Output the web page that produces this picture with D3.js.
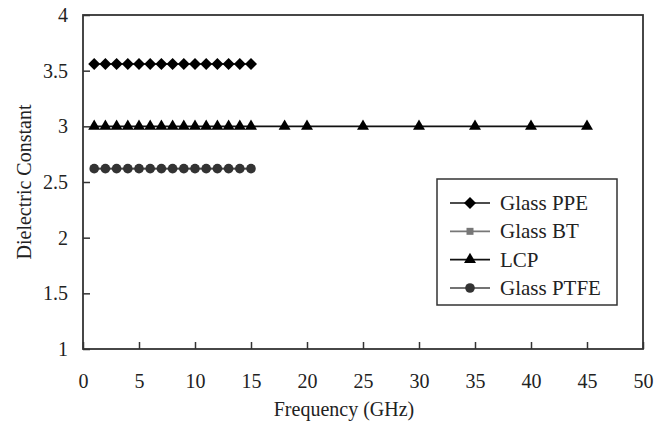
<!DOCTYPE html>
<html>
<head>
<meta charset="utf-8">
<script src="https://cdn.jsdelivr.net/npm/d3@7"></script>
<style>
  body { margin: 0; background: #fff; }
  text { font-family: "Liberation Serif", "Times New Roman", serif; fill: #222; }
</style>
</head>
<body>
<div id="chart"></div>
<script>
// frequencies (GHz)
const freqShort = [1, 2, 3, 4, 5, 6, 7, 8, 9, 10, 11, 12, 13, 14, 15];
const freqLCP = [1, 2, 3, 4, 5, 6, 7, 8, 9, 10, 11, 12, 13, 14, 15, 18, 20, 25, 30, 35, 40, 45];

const ppeValues = [3.56, 3.56, 3.56, 3.56, 3.56, 3.56, 3.56, 3.56, 3.56, 3.56, 3.56, 3.56, 3.56, 3.56, 3.56];
const btValues = [2.62, 2.62, 2.62, 2.62, 2.62, 2.62, 2.62, 2.62, 2.62, 2.62, 2.62, 2.62, 2.62, 2.62, 2.62];
const lcpValues = [3.0, 3.0, 3.0, 3.0, 3.0, 3.0, 3.0, 3.0, 3.0, 3.0, 3.0, 3.0, 3.0, 3.0, 3.0, 3.0, 3.0, 3.0, 3.0, 3.0, 3.0, 3.0];
const ptfeValues = [2.62, 2.62, 2.62, 2.62, 2.62, 2.62, 2.62, 2.62, 2.62, 2.62, 2.62, 2.62, 2.62, 2.62, 2.62];

const xTicks = [0, 5, 10, 15, 20, 25, 30, 35, 40, 45, 50];
const yTicks = [1, 1.5, 2, 2.5, 3, 3.5, 4];

const seriesNames = ["Glass PPE", "Glass BT", "LCP", "Glass PTFE"];

const W = 654, H = 428;
const plotL = 83, plotR = 643, plotT = 15, plotB = 349;
const fs = 20;

const series = [
    { name: seriesNames[0], x: freqShort, y: ppeValues, color: "#000", line: "#111", shape: d3.symbolDiamond2, size: 92 },
    { name: seriesNames[1], x: freqShort, y: btValues, color: "#777", line: "#777", shape: d3.symbolSquare, size: 49 },
    { name: seriesNames[2], x: freqLCP, y: lcpValues, color: "#000", line: "#111", shape: d3.symbolTriangle, size: 62 },
    { name: seriesNames[3], x: freqShort, y: ptfeValues, color: "#333", line: "#444", shape: d3.symbolCircle, size: 72 }
];

const x = d3.scaleLinear().domain([0, 50]).range([plotL, plotR]);
const y = d3.scaleLinear().domain([1, 4]).range([plotB, plotT]);

const svg = d3.select("#chart").append("svg")
    .attr("width", W).attr("height", H);

// frame
svg.append("rect")
    .attr("x", plotL).attr("y", plotT)
    .attr("width", plotR - plotL).attr("height", plotB - plotT)
    .attr("fill", "none").attr("stroke", "#333").attr("stroke-width", 1.8);

// x axis (ticks inside)
const xAxis = svg.append("g")
    .attr("transform", `translate(0,${plotB})`)
    .call(d3.axisBottom(x).tickValues(xTicks).tickSizeInner(-7).tickSizeOuter(0).tickPadding(25));
xAxis.select(".domain").remove();
xAxis.selectAll("line").attr("stroke", "#333").attr("stroke-width", 1.5);
xAxis.selectAll("text").attr("font-size", fs).attr("font-family", "Liberation Serif").attr("fill", "#222");

// y axis (ticks inside)
const yAxis = svg.append("g")
    .attr("transform", `translate(${plotL},0)`)
    .call(d3.axisLeft(y).tickValues(yTicks).tickFormat(d3.format("")).tickSizeInner(-7).tickSizeOuter(0).tickPadding(15));
yAxis.select(".domain").remove();
yAxis.selectAll("line").attr("stroke", "#333").attr("stroke-width", 1.5);
yAxis.selectAll("text").attr("font-size", fs).attr("font-family", "Liberation Serif").attr("fill", "#222");

// axis titles
svg.append("text")
    .attr("x", 344).attr("y", 416)
    .attr("text-anchor", "middle").attr("font-size", fs)
    .text("Frequency (GHz)");

svg.append("text")
    .attr("transform", `translate(31,${(plotT + plotB) / 2}) rotate(-90)`)
    .attr("text-anchor", "middle").attr("font-size", fs)
    .text("Dielectric Constant");

// series
const line = d3.line();
series.forEach(s => {
    const pts = s.x.map((f, i) => [x(f), y(s.y[i])]);
    svg.append("path")
        .attr("d", line(pts))
        .attr("fill", "none").attr("stroke", s.line).attr("stroke-width", 1.6);
    svg.append("g").selectAll("path").data(pts).join("path")
        .attr("transform", d => `translate(${d[0]},${d[1]})`)
        .attr("d", d3.symbol().type(s.shape).size(s.size))
        .attr("fill", s.color);
});

// legend
const lg = svg.append("g");
lg.append("rect")
    .attr("x", 437).attr("y", 179).attr("width", 180).attr("height", 126)
    .attr("fill", "#fff").attr("stroke", "#333").attr("stroke-width", 1.5);
const rowY = d3.scalePoint().domain(seriesNames).range([203, 288]);
series.forEach(s => {
    const yy = rowY(s.name);
    lg.append("line")
        .attr("x1", 450).attr("x2", 490).attr("y1", yy).attr("y2", yy)
        .attr("stroke", s.line).attr("stroke-width", 1.6);
    lg.append("path")
        .attr("transform", `translate(470,${yy})`)
        .attr("d", d3.symbol().type(s.shape).size(s.size))
        .attr("fill", s.color);
    lg.append("text")
        .attr("x", 500).attr("y", yy + 7)
        .attr("font-size", 21)
        .text(s.name);
});
</script>
</body>
</html>
